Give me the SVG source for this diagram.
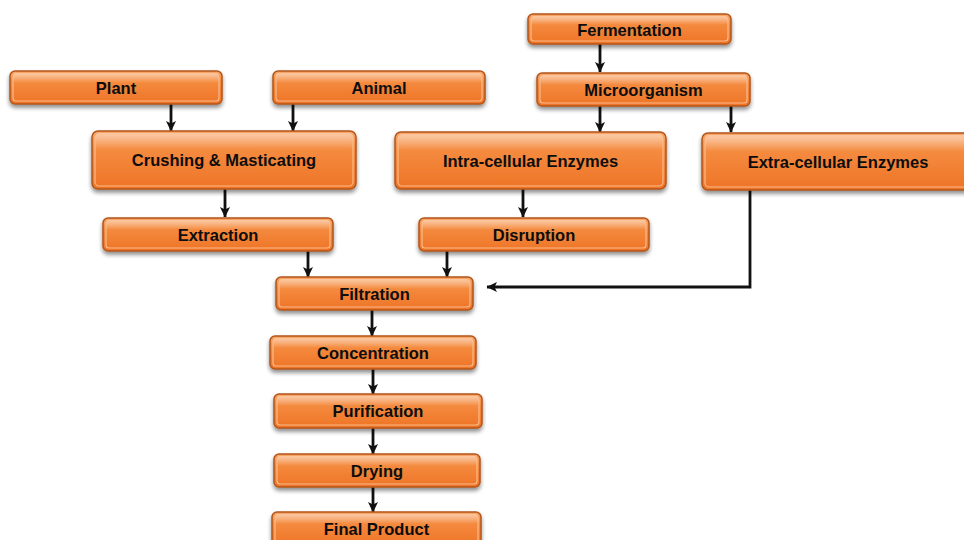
<svg xmlns="http://www.w3.org/2000/svg" width="964" height="540" viewBox="0 0 964 540">
  <defs>
    <linearGradient id="boxFill" x1="0" y1="0" x2="0" y2="1">
      <stop offset="0" stop-color="#f9a66a"/>
      <stop offset="0.35" stop-color="#f48a3e"/>
      <stop offset="1" stop-color="#ee7326"/>
    </linearGradient>
    <linearGradient id="gloss" x1="0" y1="0" x2="0" y2="1">
      <stop offset="0" stop-color="#ffffff" stop-opacity="0.45"/>
      <stop offset="1" stop-color="#ffffff" stop-opacity="0"/>
    </linearGradient>
    <filter id="shadow" x="-10%" y="-30%" width="120%" height="170%">
      <feGaussianBlur in="SourceAlpha" stdDeviation="2"/>
      <feOffset dx="0" dy="3" result="b"/>
      <feComponentTransfer><feFuncA type="linear" slope="0.45"/></feComponentTransfer>
      <feMerge><feMergeNode/><feMergeNode in="SourceGraphic"/></feMerge>
    </filter>
    <marker id="arrow" markerWidth="11" markerHeight="11" refX="10" refY="5.5" orient="auto" markerUnits="userSpaceOnUse">
      <path d="M0,0.5 L10.5,5.5 L0,10.5 L2.5,5.5 Z" fill="#111"/>
    </marker>
  </defs>
  <style>
    .box { fill: url(#boxFill); stroke: #b3561a; stroke-width: 1.5; filter: url(#shadow); }
    .bevel { fill: none; stroke: #fbc193; stroke-width: 1.2; stroke-opacity: 0.9; }
    .hl { fill: url(#gloss); }
    .lbl { font-family: "Liberation Sans", Arial, sans-serif; font-weight: bold; font-size: 16.5px; fill: #0d0d0d; text-anchor: middle; }
    .conn { fill: none; stroke: #111; stroke-width: 2.8; marker-end: url(#arrow); }
  </style>
  <rect width="964" height="540" fill="#ffffff"/>

  <g id="connectors">
    <line class="conn" x1="600" y1="44" x2="600" y2="72"/>
    <line class="conn" x1="171" y1="104" x2="171" y2="131"/>
    <line class="conn" x1="293" y1="104" x2="293" y2="131"/>
    <line class="conn" x1="600" y1="106" x2="600" y2="132"/>
    <line class="conn" x1="731" y1="106" x2="731" y2="132"/>
    <line class="conn" x1="225" y1="189" x2="225" y2="217"/>
    <line class="conn" x1="523" y1="189" x2="523" y2="217"/>
    <line class="conn" x1="308" y1="251" x2="308" y2="277"/>
    <line class="conn" x1="447" y1="251" x2="447" y2="277"/>
    <polyline class="conn" points="750,190 750,287 487,287"/>
    <line class="conn" x1="372" y1="310" x2="372" y2="336"/>
    <line class="conn" x1="373" y1="369" x2="373" y2="394"/>
    <line class="conn" x1="373" y1="428" x2="373" y2="454"/>
    <line class="conn" x1="373" y1="487" x2="373" y2="512"/>
  </g>

  <g id="fermentation">
    <rect class="box" x="528" y="14" width="203" height="30" rx="5"/>
    <rect class="hl" x="531" y="16" width="197" height="9" rx="3"/>
    <rect class="bevel" x="531" y="17" width="197" height="24" rx="3"/>
    <text class="lbl" x="629.5" y="35.5">Fermentation</text>
  </g>
  <g id="plant">
    <rect class="box" x="10" y="71" width="212" height="33" rx="5"/>
    <rect class="hl" x="13" y="73" width="206" height="10" rx="3"/>
    <rect class="bevel" x="13" y="74" width="206" height="27" rx="3"/>
    <text class="lbl" x="116" y="93.5">Plant</text>
  </g>
  <g id="animal">
    <rect class="box" x="273" y="71" width="212" height="33" rx="5"/>
    <rect class="hl" x="276" y="73" width="206" height="10" rx="3"/>
    <rect class="bevel" x="276" y="74" width="206" height="27" rx="3"/>
    <text class="lbl" x="379" y="93.5">Animal</text>
  </g>
  <g id="microorganism">
    <rect class="box" x="537" y="73" width="213" height="33" rx="5"/>
    <rect class="hl" x="540" y="75" width="207" height="10" rx="3"/>
    <rect class="bevel" x="540" y="76" width="207" height="27" rx="3"/>
    <text class="lbl" x="643.5" y="95.5">Microorganism</text>
  </g>
  <g id="crushing">
    <rect class="box" x="92" y="131" width="264" height="58" rx="6"/>
    <rect class="hl" x="95" y="133" width="258" height="16" rx="4"/>
    <rect class="bevel" x="95" y="134" width="258" height="52" rx="4"/>
    <text class="lbl" x="224" y="166">Crushing &amp; Masticating</text>
  </g>
  <g id="intracellular">
    <rect class="box" x="395" y="132" width="271" height="57" rx="6"/>
    <rect class="hl" x="398" y="134" width="265" height="16" rx="4"/>
    <rect class="bevel" x="398" y="135" width="265" height="51" rx="4"/>
    <text class="lbl" x="530.5" y="166.5">Intra-cellular Enzymes</text>
  </g>
  <g id="extracellular">
    <rect class="box" x="702" y="133" width="272" height="57" rx="6"/>
    <rect class="hl" x="705" y="135" width="266" height="16" rx="4"/>
    <rect class="bevel" x="705" y="136" width="266" height="51" rx="4"/>
    <text class="lbl" x="838" y="167.5">Extra-cellular Enzymes</text>
  </g>
  <g id="extraction">
    <rect class="box" x="103" y="218" width="230" height="33" rx="5"/>
    <rect class="hl" x="106" y="220" width="224" height="10" rx="3"/>
    <rect class="bevel" x="106" y="221" width="224" height="27" rx="3"/>
    <text class="lbl" x="218" y="240.5">Extraction</text>
  </g>
  <g id="disruption">
    <rect class="box" x="419" y="218" width="230" height="33" rx="5"/>
    <rect class="hl" x="422" y="220" width="224" height="10" rx="3"/>
    <rect class="bevel" x="422" y="221" width="224" height="27" rx="3"/>
    <text class="lbl" x="534" y="240.5">Disruption</text>
  </g>
  <g id="filtration">
    <rect class="box" x="276" y="277" width="197" height="33" rx="5"/>
    <rect class="hl" x="279" y="279" width="191" height="10" rx="3"/>
    <rect class="bevel" x="279" y="280" width="191" height="27" rx="3"/>
    <text class="lbl" x="374.5" y="299.5">Filtration</text>
  </g>
  <g id="concentration">
    <rect class="box" x="270" y="336" width="206" height="33" rx="5"/>
    <rect class="hl" x="273" y="338" width="200" height="10" rx="3"/>
    <rect class="bevel" x="273" y="339" width="200" height="27" rx="3"/>
    <text class="lbl" x="373" y="358.5">Concentration</text>
  </g>
  <g id="purification">
    <rect class="box" x="274" y="394" width="208" height="34" rx="5"/>
    <rect class="hl" x="277" y="396" width="202" height="10" rx="3"/>
    <rect class="bevel" x="277" y="397" width="202" height="28" rx="3"/>
    <text class="lbl" x="378" y="417">Purification</text>
  </g>
  <g id="drying">
    <rect class="box" x="274" y="454" width="206" height="33" rx="5"/>
    <rect class="hl" x="277" y="456" width="200" height="10" rx="3"/>
    <rect class="bevel" x="277" y="457" width="200" height="27" rx="3"/>
    <text class="lbl" x="377" y="476.5">Drying</text>
  </g>
  <g id="final-product">
    <rect class="box" x="272" y="512" width="209" height="34" rx="5"/>
    <rect class="hl" x="275" y="514" width="203" height="10" rx="3"/>
    <rect class="bevel" x="275" y="515" width="203" height="28" rx="3"/>
    <text class="lbl" x="376.5" y="535">Final Product</text>
  </g>
</svg>
